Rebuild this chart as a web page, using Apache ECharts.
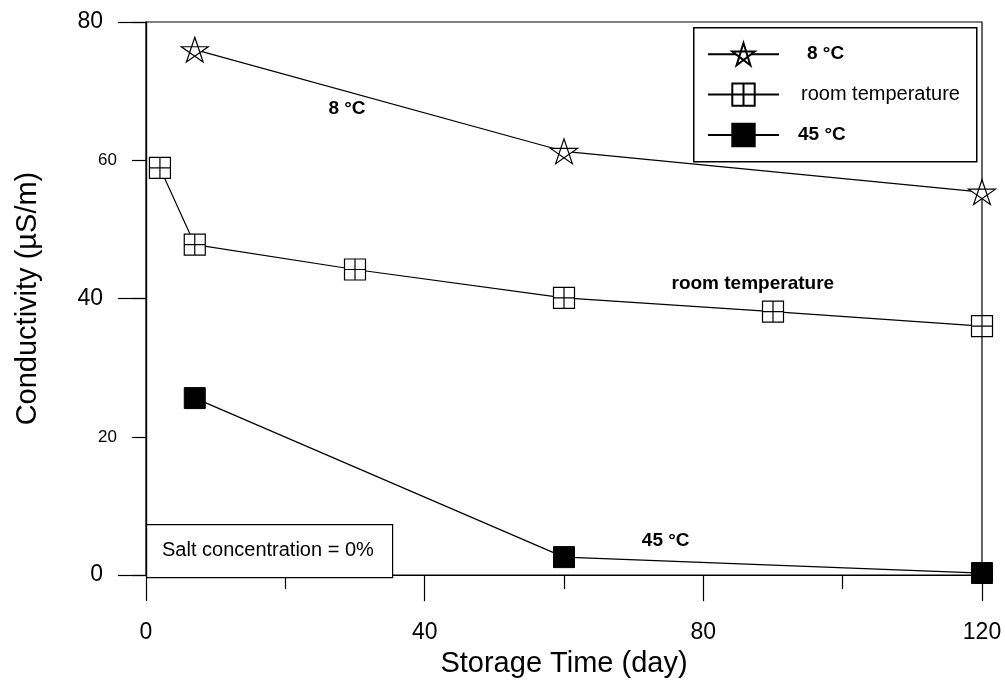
<!DOCTYPE html>
<html>
<head>
<meta charset="utf-8">
<script src="https://cdn.jsdelivr.net/npm/echarts@6/dist/echarts.min.js"></script>
<style>
html,body{margin:0;padding:0;background:#fff;}
#chart{width:1005px;height:683px;}
</style>
</head>
<body>
<div id="chart"></div>
<script>
// ---- data ----
const seriesNames = ['8 °C', 'room temperature', '45 °C'];
const days8 = [7, 60, 120];
const cond8 = [76.0, 61.3, 55.4];
const daysRoom = [2, 7, 30, 60, 90, 120];
const condRoom = [58.9, 47.8, 44.2, 40.1, 38.1, 36.0];
const days45 = [7, 60, 120];
const cond45 = [25.6, 2.6, 0.3];
const xTicks = [0, 40, 80, 120];
const yMajorTicks = [0, 40, 80];
const yMinorTicks = [20, 60];

const FONT = "'Liberation Sans', Arial, sans-serif";
const pair = (xs, ys) => xs.map((x, i) => [x, ys[i]]);

const STAR = 'path://M100,0L158.8,180.9L4.9,69.1L195.1,69.1L41.2,180.9Z';
const CROSSSQ = 'path://M0,0L20,0L20,20L0,20Z M10,0L10,20 M0,10L20,10';
const SQ = 'path://M0,0L20,0L20,20L0,20Z';

const chart = echarts.init(document.getElementById('chart'), null, {renderer: 'canvas'});

const annLabel = (txt) => ({
  show: true, formatter: txt, color: '#000', fontFamily: FONT,
  fontWeight: 'bold', fontSize: 19, position: 'inside'
});

const option = {
  backgroundColor: '#fff',
  animation: false,
  grid: {left: 146, right: 23, top: 22, bottom: 104, show: true,
         borderColor: '#000', borderWidth: 1.2, backgroundColor: 'transparent'},
  xAxis: {
    type: 'value', min: 0, max: 120, interval: 40,
    name: 'Storage Time (day)', nameLocation: 'middle', nameGap: 72,
    nameTextStyle: {fontFamily: FONT, fontSize: 29, color: '#000'},
    axisLine: {show: true, lineStyle: {color: '#000', width: 1.2}},
    axisTick: {show: true, length: 26, lineStyle: {color: '#000', width: 1.2}},
    minorTick: {show: true, splitNumber: 2, length: 14, lineStyle: {color: '#000', width: 1.2}},
    axisLabel: {fontFamily: FONT, fontSize: 23, color: '#000', margin: 46,
      formatter: v => xTicks.includes(v) ? String(v) : ''},
    splitLine: {show: false}
  },
  yAxis: [
    {
      type: 'value', min: 0, max: 80, interval: 20,
      axisLine: {show: true, lineStyle: {color: '#000', width: 1.2}},
      axisTick: {show: true, length: 14, lineStyle: {color: '#000', width: 1.2}},
      axisLabel: {fontFamily: FONT, fontSize: 17, color: '#000', margin: 29,
        formatter: v => yMinorTicks.includes(v) ? String(v) : ''},
      splitLine: {show: false}
    },
    {
      type: 'value', min: 0, max: 80, interval: 40, position: 'left', offset: 0,
      name: 'Conductivity (\u00B5S/m)', nameLocation: 'middle', nameGap: 104,
      nameTextStyle: {fontFamily: FONT, fontSize: 29, color: '#000'},
      axisLine: {show: true, lineStyle: {color: '#000', width: 1.2}},
      axisTick: {show: true, length: 28, lineStyle: {color: '#000', width: 1.2}},
      axisLabel: {fontFamily: FONT, fontSize: 23, color: '#000', margin: 43,
        formatter: v => yMajorTicks.includes(v) ? String(v) : ''},
      splitLine: {show: false}
    }
  ],
  legend: {
    left: 707, top: 42, orient: 'vertical', padding: 0,
    itemWidth: 71, itemHeight: 28, itemGap: 16,
    data: [
      {name: seriesNames[0], textStyle: {fontWeight: 'bold', fontSize: 19, padding: [0, 0, 0, 23]}},
      {name: seriesNames[1], textStyle: {fontWeight: 'normal', fontSize: 20, padding: [0, 0, 0, 17]}},
      {name: seriesNames[2], textStyle: {fontWeight: 'bold', fontSize: 19, padding: [0, 0, 0, 14]}}
    ],
    textStyle: {fontFamily: FONT, color: '#000'}
  },
  graphic: [
    {type: 'rect', left: 693, top: 27, shape: {width: 283, height: 134},
     style: {fill: 'transparent', stroke: '#000', lineWidth: 1.5}, z: 100},
    {type: 'rect', left: 146, top: 524, shape: {width: 246, height: 53},
     style: {fill: '#fff', stroke: '#000', lineWidth: 1.2}, z: 100},
    {type: 'text', left: 162, top: 540,
     style: {text: 'Salt concentration = 0%', font: "20px 'Liberation Sans', Arial, sans-serif", fill: '#000'}, z: 101}
  ],
  series: [
    {
      name: seriesNames[0], type: 'line', yAxisIndex: 0,
      data: pair(days8, cond8),
      symbol: STAR, symbolSize: [27, 26], symbolKeepAspect: true,
      lineStyle: {color: '#000', width: 1.2},
      itemStyle: {color: '#fff', borderColor: '#000', borderWidth: 1.2},
      markPoint: {symbol: 'circle', symbolSize: 1, itemStyle: {color: 'transparent'},
        label: annLabel('8 °C'), data: [{coord: [28.85, 67.5]}]},
      z: 3
    },
    {
      name: seriesNames[1], type: 'line', yAxisIndex: 0,
      data: pair(daysRoom, condRoom),
      symbol: CROSSSQ, symbolSize: 21,
      lineStyle: {color: '#000', width: 1.2},
      itemStyle: {color: '#fff', borderColor: '#000', borderWidth: 1.2},
      markPoint: {symbol: 'circle', symbolSize: 1, itemStyle: {color: 'transparent'},
        label: annLabel('room temperature'), data: [{coord: [87.1, 42.2]}]},
      z: 3
    },
    {
      name: seriesNames[2], type: 'line', yAxisIndex: 0,
      data: pair(days45, cond45),
      symbol: SQ, symbolSize: 21,
      lineStyle: {color: '#000', width: 1.2},
      itemStyle: {color: '#000', borderColor: '#000', borderWidth: 1},
      markPoint: {symbol: 'circle', symbolSize: 1, itemStyle: {color: 'transparent'},
        label: annLabel('45 °C'), data: [{coord: [74.6, 4.9]}]},
      z: 3
    }
  ]
};
chart.setOption(option);
</script>
</body>
</html>
